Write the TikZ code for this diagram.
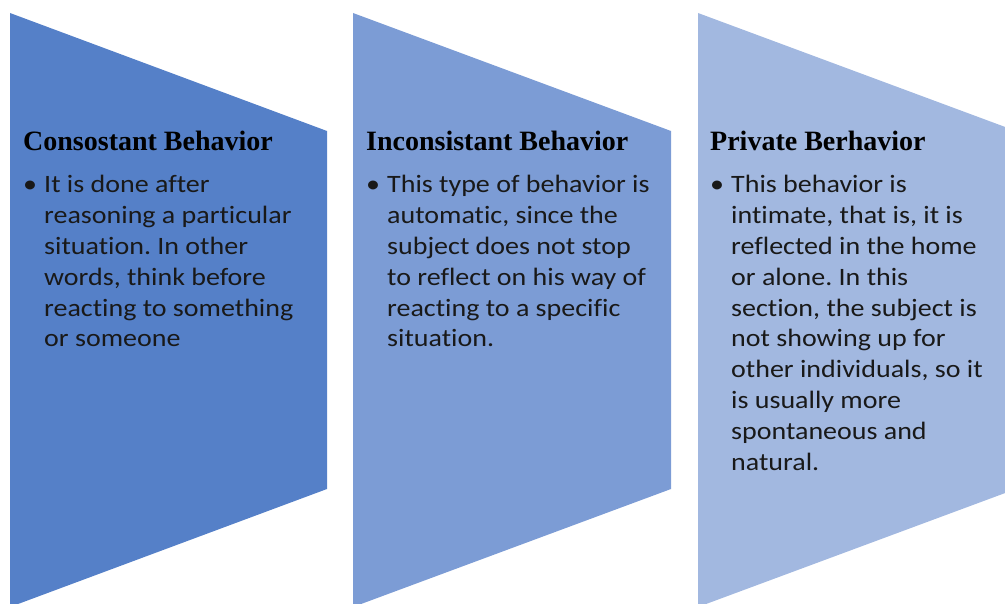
\documentclass[tikz,border=0pt]{standalone}
\usepackage{fontspec}
\setmainfont{Carlito}[FakeStretch=1.12,Ligatures=NoCommon]
\newfontfamily\headfont{Liberation Serif}
\frenchspacing
\begin{document}
\begin{tikzpicture}[x=1pt,y=-1pt,
  headtext/.style={anchor=base west,inner sep=0pt,font=\headfont\bfseries\fontsize{28}{30}\selectfont},
  bullettext/.style={anchor=base west,inner sep=0pt,font=\fontsize{25}{30.8}\selectfont,text=black!90},
  bodytext/.style={anchor=base west,inner sep=0pt,font=\fontsize{25}{30.8}\selectfont,text=black!90}]
\definecolor{shadeA}{RGB}{85,128,200}
\definecolor{shadeB}{RGB}{124,156,213}
\definecolor{shadeC}{RGB}{162,184,224}
\useasboundingbox (0,0) rectangle (1005,604);
\begin{scope}
\clip (0,0) rectangle (1005,604);
% three step shapes
\fill[shadeA] (10,13) -- (327,131) -- (327,489) -- (10,607) -- cycle;
\fill[shadeB] (353,13) -- (671,131) -- (671,489) -- (353,607) -- cycle;
\fill[shadeC] (698,13) -- (1016,131) -- (1016,489) -- (698,607) -- cycle;
\end{scope}
% first column
\node[headtext] (h1) at (23,151) {Consostant Behavior};
\node[bullettext] (b1) at (23,193) {\textbullet};
\node[bodytext] (t1) at (44,193) {\parbox[t]{300pt}{\raggedright
It is done after\\reasoning a particular\\situation. In other\\words, think before\\reacting to something\\or someone}};
% second column
\node[headtext] (h2) at (366,151) {Inconsistant Behavior};
\node[bullettext] (b2) at (366,193) {\textbullet};
\node[bodytext] (t2) at (387,193) {\parbox[t]{300pt}{\raggedright
This type of behavior is\\automatic, since the\\subject does not stop\\to reflect on his way of\\reacting to a specific\\situation.}};
% third column
\node[headtext] (h3) at (710,151) {Private Berhavior};
\node[bullettext] (b3) at (710,193) {\textbullet};
\node[bodytext] (t3) at (731,193) {\parbox[t]{300pt}{\raggedright
This behavior is\\intimate, that is, it is\\reflected in the home\\or alone. In this\\section, the subject is\\not showing up for\\other individuals, so it\\is usually more\\spontaneous and\\natural.}};
\end{tikzpicture}
\end{document}
